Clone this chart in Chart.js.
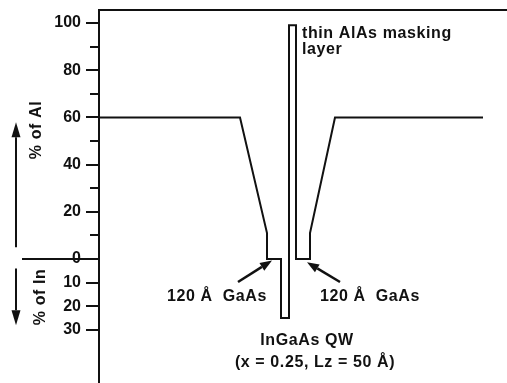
<!DOCTYPE html>
<html>
<head>
<meta charset="utf-8">
<script src="https://cdn.jsdelivr.net/npm/chart.js@4.4.1/dist/chart.umd.min.js"></script>
<style>
  html, body { margin: 0; padding: 0; background: #fff; }
  #wrap { width: 507px; height: 383px; }
</style>
</head>
<body>
<div id="wrap"><canvas id="profile"></canvas></div>
<script>
// position across the structure (arbitrary units) and composition:
// Al % above zero, In % below zero (plotted as negative)
const positions   = [0, 141, 168, 168, 182, 182, 190, 190, 197, 197, 211, 211, 236, 384];
const composition = [60, 60, 11, 0, 0, -25, -25, 99, 99, 0, 0, 11, 60, 60];
const tickValues  = [-30, -20, -10, 0, 10, 20, 30, 40, 50, 60, 70, 80, 90, 100];
const labelledTicks = [-30, -20, -10, 0, 20, 40, 60, 80, 100];

const INK = '#111';
const FAMILY = '"Liberation Sans", Arial, Helvetica, sans-serif';
const FONT = 'bold 16px ' + FAMILY;

function line(ctx, x1, y1, x2, y2) {
    ctx.beginPath();
    ctx.moveTo(x1, y1);
    ctx.lineTo(x2, y2);
    ctx.stroke();
}

function arrow(ctx, x1, y1, x2, y2, headLen, headW) {
    const ang = Math.atan2(y2 - y1, x2 - x1);
    const bx = x2 - headLen * Math.cos(ang);
    const by = y2 - headLen * Math.sin(ang);
    line(ctx, x1, y1, bx, by);
    ctx.beginPath();
    ctx.moveTo(x2, y2);
    ctx.lineTo(bx + headW / 2 * Math.sin(ang), by - headW / 2 * Math.cos(ang));
    ctx.lineTo(bx - headW / 2 * Math.sin(ang), by + headW / 2 * Math.cos(ang));
    ctx.closePath();
    ctx.fill();
}

function text(ctx, str, px, py, align) {
    ctx.textAlign = align;
    ctx.fillText(str, px, py);
}

// frame top, tick marks, arrows and labels
const decorPlugin = {
    id: 'decor',
    afterDraw(chart) {
        const { ctx, chartArea } = chart;
        const x = chart.scales.x;
        const y = chart.scales.y;
        ctx.save();
        ctx.strokeStyle = INK;
        ctx.fillStyle = INK;
        ctx.lineWidth = 2;

        line(ctx, chartArea.left, chartArea.top, chartArea.right, chartArea.top);

        tickValues.forEach(v => {
            const py = Math.round(y.getPixelForValue(v));
            const len = labelledTicks.includes(v) ? 13 : 9;
            line(ctx, chartArea.left - len, py, chartArea.left, py);
        });

        // Al / In separator
        const y0 = Math.round(y.getPixelForValue(0));
        line(ctx, x.getPixelForValue(-77), y0, chartArea.left, y0);

        // side arrows
        arrow(ctx, x.getPixelForValue(-83), y.getPixelForValue(5),
                   x.getPixelForValue(-83), y.getPixelForValue(58), 15, 9);
        arrow(ctx, x.getPixelForValue(-83), y.getPixelForValue(-4),
                   x.getPixelForValue(-83), y.getPixelForValue(-28), 15, 9);

        // GaAs pointers
        ctx.lineWidth = 2.5;
        arrow(ctx, x.getPixelForValue(139), y.getPixelForValue(-9.7),
                   x.getPixelForValue(173), y.getPixelForValue(-0.6), 12, 9);
        arrow(ctx, x.getPixelForValue(241), y.getPixelForValue(-9.7),
                   x.getPixelForValue(208), y.getPixelForValue(-1.3), 12, 9);

        ctx.font = FONT;
        ctx.letterSpacing = '0.6px';
        ctx.textBaseline = 'alphabetic';
        text(ctx, 'thin AlAs masking', x.getPixelForValue(203), y.getPixelForValue(93.6), 'left');
        text(ctx, 'layer', x.getPixelForValue(203), y.getPixelForValue(86.9), 'left');
        text(ctx, '120 Å  GaAs', x.getPixelForValue(68), y.getPixelForValue(-17.8), 'left');
        text(ctx, '120 Å  GaAs', x.getPixelForValue(221), y.getPixelForValue(-17.8), 'left');
        text(ctx, 'InGaAs QW', x.getPixelForValue(208), y.getPixelForValue(-36.4), 'center');
        text(ctx, '(x = 0.25, Lz = 50 Å)', x.getPixelForValue(216), y.getPixelForValue(-45.8), 'center');

        // rotated axis titles
        ctx.textBaseline = 'middle';
        [['% of Al', -62, 54.7], ['% of In', -58, -16]].forEach(([str, vx, vy]) => {
            ctx.save();
            ctx.translate(x.getPixelForValue(vx), y.getPixelForValue(vy));
            ctx.rotate(-Math.PI / 2);
            text(ctx, str, 0, 0, 'center');
            ctx.restore();
        });
        ctx.restore();
    }
};

const points = positions.map((p, i) => ({ x: p, y: composition[i] }));

new Chart(document.getElementById('profile'), {
    type: 'line',
    data: {
        datasets: [{
            data: points,
            borderColor: INK,
            borderWidth: 2,
            borderJoinStyle: 'miter',
            pointRadius: 0,
            tension: 0,
            fill: false
        }]
    },
    options: {
        responsive: true,
        maintainAspectRatio: false,
        animation: false,
        layout: { padding: { left: 53, top: 10, right: 0, bottom: 0 } },
        plugins: { legend: { display: false }, tooltip: { enabled: false } },
        scales: {
            x: { type: 'linear', display: false, min: 0, max: 408 },
            y: {
                type: 'linear',
                min: -52.5,
                max: 105.5,
                afterBuildTicks: s => { s.ticks = tickValues.map(v => ({ value: v })); },
                afterFit: s => { s.width = 46; s.paddingTop = 0; s.paddingBottom = 0; },
                grid: { drawOnChartArea: false, drawTicks: false },
                border: { color: INK, width: 2 },
                ticks: {
                    color: INK,
                    font: { family: FAMILY, size: 16, weight: 'bold' },
                    padding: 18,
                    autoSkip: false,
                    maxRotation: 0,
                    callback: v => labelledTicks.includes(v) ? String(Math.abs(v)) : ''
                }
            }
        }
    },
    plugins: [decorPlugin]
});
</script>
</body>
</html>
